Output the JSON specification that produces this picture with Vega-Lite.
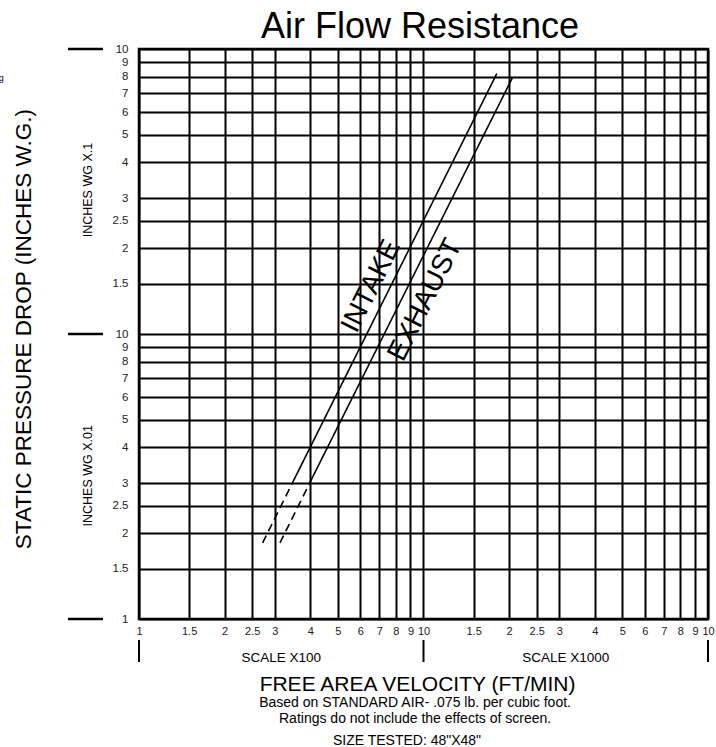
{
  "$schema": "https://vega.github.io/schema/vega-lite/v6.json",
  "autosize": "none",
  "width": 569,
  "height": 570,
  "padding": {"left": 139, "top": 49, "right": 8, "bottom": 128},
  "background": "white",
  "config": {
    "view": {"stroke": "black", "strokeWidth": 2.5},
    "font": "Liberation Sans",
    "text": {"font": "Liberation Sans", "color": "black"}
  },
  "layer": [
    {
      "data": {"values": [
        {"series": "Intake", "part": "dashed", "v": 272, "p": 0.0185},
        {"series": "Intake", "part": "dashed", "v": 346, "p": 0.03},
        {"series": "Intake", "part": "solid", "v": 346, "p": 0.03},
        {"series": "Intake", "part": "solid", "v": 1810, "p": 0.82},
        {"series": "Exhaust", "part": "dashed", "v": 313, "p": 0.0185},
        {"series": "Exhaust", "part": "dashed", "v": 398, "p": 0.03},
        {"series": "Exhaust", "part": "solid", "v": 398, "p": 0.03},
        {"series": "Exhaust", "part": "solid", "v": 2050, "p": 0.79}
      ]},
      "mark": {"type": "line", "color": "black", "strokeWidth": 1.6},
      "encoding": {
        "x": {
          "field": "v", "type": "quantitative",
          "scale": {"type": "log", "domain": [100, 10000], "nice": false},
          "axis": {
            "title": null,
            "values": [100, 150, 200, 250, 300, 400, 500, 600, 700, 800, 900, 1000, 1500, 2000, 2500, 3000, 4000, 5000, 6000, 7000, 8000, 9000, 10000],
            "labelExpr": "datum.value <= 1000 ? format(datum.value/100, '.2~g') : format(datum.value/1000, '.2~g')",
            "grid": true, "gridColor": "black", "gridWidth": 2, "gridOpacity": 1,
            "domain": false, "ticks": false, "labelPadding": 6,
            "labelFontSize": 11, "labelColor": "#222", "labelFont": "Liberation Sans",
            "labelFlush": false, "labelOverlap": false
          }
        },
        "y": {
          "field": "p", "type": "quantitative",
          "scale": {"type": "log", "domain": [0.01, 1], "nice": false},
          "axis": {
            "title": null,
            "values": [0.01, 0.015, 0.02, 0.025, 0.03, 0.04, 0.05, 0.06, 0.07, 0.08, 0.09, 0.1, 0.15, 0.2, 0.25, 0.3, 0.4, 0.5, 0.6, 0.7, 0.8, 0.9, 1],
            "labelExpr": "datum.value > 0.11 ? format(datum.value*10, '.2~g') : format(datum.value*100, '.2~g')",
            "grid": true, "gridColor": "black", "gridWidth": 2, "gridOpacity": 1,
            "domain": false, "ticks": false, "labelPadding": 11,
            "labelFontSize": 11.5, "labelColor": "#222", "labelFont": "Liberation Sans",
            "labelFlush": false, "labelOverlap": false
          }
        },
        "detail": {"field": "series"},
        "strokeDash": {
          "field": "part", "type": "nominal",
          "scale": {"domain": ["solid", "dashed"], "range": [[1, 0], [8, 5]]},
          "legend": null
        }
      }
    },
    {
      "data": {"values": [
        {"label": "INTAKE", "v": 656, "p": 0.147},
        {"label": "EXHAUST", "v": 1016, "p": 0.1316}
      ]},
      "mark": {"type": "text", "fontSize": 28, "angle": -63.4, "align": "center", "baseline": "middle"},
      "encoding": {
        "x": {"field": "v", "type": "quantitative"},
        "y": {"field": "p", "type": "quantitative"},
        "text": {"field": "label"}
      }
    },
    {
      "data": {"values": [{"p": 1}, {"p": 0.1}, {"p": 0.01}]},
      "mark": {"type": "rule", "color": "black", "strokeWidth": 2.5},
      "encoding": {
        "x": {"datum": 56.3},
        "x2": {"datum": 74.7},
        "y": {"field": "p", "type": "quantitative"}
      }
    },
    {
      "data": {"values": [{"v": 100}, {"v": 1000}, {"v": 10000}]},
      "mark": {"type": "rule", "color": "black", "strokeWidth": 2},
      "encoding": {
        "x": {"field": "v", "type": "quantitative"},
        "y": {"datum": 0.00844},
        "y2": {"datum": 0.00706}
      }
    },
    {
      "data": {"values": [{}]},
      "mark": {"type": "text", "fontSize": 36, "align": "center", "baseline": "alphabetic", "text": "Air Flow Resistance"},
      "encoding": {"x": {"datum": 972}, "y": {"datum": 1.093}}
    },
    {
      "data": {"values": [{}]},
      "mark": {"type": "text", "fontSize": 22.5, "angle": -90, "align": "center", "baseline": "middle", "text": "STATIC PRESSURE DROP (INCHES W.G.)"},
      "encoding": {"x": {"datum": 39.4}, "y": {"datum": 0.104}}
    },
    {
      "data": {"values": [{}]},
      "mark": {"type": "text", "fontSize": 12.5, "angle": -90, "align": "center", "baseline": "middle", "text": "INCHES WG X.1"},
      "encoding": {"x": {"datum": 66.2}, "y": {"datum": 0.32}}
    },
    {
      "data": {"values": [{}]},
      "mark": {"type": "text", "fontSize": 12.5, "angle": -90, "align": "center", "baseline": "middle", "text": "INCHES WG X.01"},
      "encoding": {"x": {"datum": 66.2}, "y": {"datum": 0.0318}}
    },
    {
      "data": {"values": [{}]},
      "mark": {"type": "text", "fontSize": 9, "align": "right", "baseline": "middle", "text": "g"},
      "encoding": {"x": {"datum": 33.5}, "y": {"datum": 0.791}}
    },
    {
      "data": {"values": [{}]},
      "mark": {"type": "text", "fontSize": 13.5, "align": "center", "baseline": "middle", "text": "SCALE X100"},
      "encoding": {"x": {"datum": 316}, "y": {"datum": 0.0073}}
    },
    {
      "data": {"values": [{}]},
      "mark": {"type": "text", "fontSize": 13.5, "align": "center", "baseline": "middle", "text": "SCALE X1000"},
      "encoding": {"x": {"datum": 3162}, "y": {"datum": 0.0073}}
    },
    {
      "data": {"values": [{}]},
      "mark": {"type": "text", "fontSize": 21, "align": "center", "baseline": "middle", "text": "FREE AREA VELOCITY (FT/MIN)"},
      "encoding": {"x": {"datum": 953}, "y": {"datum": 0.005867}}
    },
    {
      "data": {"values": [{}]},
      "mark": {"type": "text", "fontSize": 14, "align": "center", "baseline": "middle", "text": "Based on STANDARD AIR-  .075 lb. per cubic foot."},
      "encoding": {"x": {"datum": 934}, "y": {"datum": 0.005074}}
    },
    {
      "data": {"values": [{}]},
      "mark": {"type": "text", "fontSize": 14, "align": "center", "baseline": "middle", "text": "Ratings do not include the effects of screen."},
      "encoding": {"x": {"datum": 934}, "y": {"datum": 0.004457}}
    },
    {
      "data": {"values": [{}]},
      "mark": {"type": "text", "fontSize": 14, "align": "center", "baseline": "middle", "text": "SIZE TESTED: 48\"X48\""},
      "encoding": {"x": {"datum": 875}, "y": {"datum": 0.003731}}
    }
  ]
}
